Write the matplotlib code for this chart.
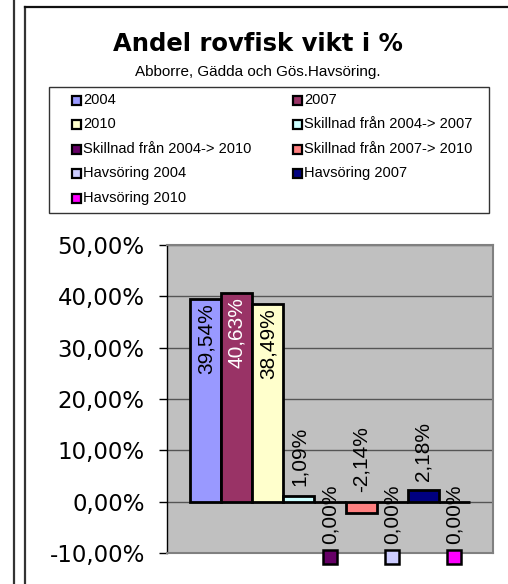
import matplotlib
matplotlib.use("Agg")
import matplotlib.pyplot as plt
from matplotlib.patches import Rectangle
from matplotlib.lines import Line2D
import matplotlib.transforms as mtransforms
import numpy as np

series = ["2004", "2007", "2010", "Skillnad från 2004-> 2007",
          "Skillnad från 2004-> 2010", "Skillnad från 2007-> 2010",
          "Havsöring 2004", "Havsöring 2007", "Havsöring 2010"]
values = [39.54, 40.63, 38.49, 1.09, 0.00, -2.14, 0.00, 2.18, 0.00]
colors = ["#9999FF", "#993366", "#FFFFCC", "#CCFFFF", "#660066",
          "#FF8080", "#CCCCFF", "#000080", "#FF00FF"]
yticks = [-10, 0, 10, 20, 30, 40, 50]
title = "Andel rovfisk vikt i %"
subtitle = "Abborre, Gädda och Gös.Havsöring."

W, H = 508, 584
fig = plt.figure(figsize=(W / 100, H / 100), dpi=100)
fig.patch.set_facecolor("white")

def fx(px):
    return px / W

def fy(py):
    return 1 - py / H

# outer frame lines
fig.add_artist(Line2D([fx(14), fx(14)], [0, 1], color="#333333", lw=1.6))
fig.add_artist(Line2D([fx(25), fx(25)], [0, fy(7)], color="#333333", lw=1.6))
fig.add_artist(Line2D([fx(25), 1], [fy(7), fy(7)], color="#111111", lw=1.6))

# titles
fig.text(fx(258), fy(44), title, ha="center", va="center",
         fontsize=17.5, fontweight="bold", family="DejaVu Sans")
fig.text(fx(258), fy(72), subtitle, ha="center", va="center",
         fontsize=11, family="Liberation Sans")

# legend box
fig.add_artist(Rectangle((fx(49), fy(213)), fx(489 - 49), (213 - 87) / H,
                         facecolor="white", edgecolor="#333333", lw=1.0,
                         transform=fig.transFigure))
for i, (lab, c) in enumerate(zip(series, colors)):
    row, col = i // 2, i % 2
    cx = 76 if col == 0 else 297
    cy = 100 + row * 24.5
    fig.add_artist(Rectangle((fx(cx - 4.5), fy(cy + 4.5)), 9 / W, 9 / H,
                             facecolor=c, edgecolor="black", lw=1.6,
                             transform=fig.transFigure))
    fig.text(fx(cx + 7), fy(cy), lab, ha="left", va="center",
             fontsize=10.5, family="Liberation Sans")

# plot area
ax = fig.add_axes([fx(167), fy(553), fx(493 - 167), (553 - 245) / H])
ax.set_facecolor("#C0C0C0")
ax.set_ylim(-10, 50)
ax.set_xlim(-0.5, 0.5)
n = len(values)
bw = 1 / (n + 1.5)
xs = -n * bw / 2 + bw * (np.arange(n) + 0.5)
ax.set_axisbelow(True)
ax.yaxis.grid(True, color="#555555", lw=1.0)
ax.bar(xs, values, width=bw, color=colors, edgecolor="black", lw=2, zorder=3)

lab_fs = 15
key_shift = mtransforms.ScaledTranslation(0, -40 / 72, fig.dpi_scale_trans)
for x, v, c in zip(xs, values, colors):
    lab = f"{v:.2f}".replace(".", ",") + "%"
    if v >= 20:
        tc = "white" if c in ("#993366",) else "black"
        ax.annotate(lab, (x, v), xytext=(0, -3), textcoords="offset points",
                    rotation=90, ha="center", va="top", color=tc,
                    fontsize=lab_fs, family="Liberation Sans", zorder=5)
    elif v == 0:
        ax.annotate(lab, (x, 0), xytext=(0, -30.5), textcoords="offset points",
                    rotation=90, ha="center", va="bottom", color="black",
                    fontsize=lab_fs, family="Liberation Sans", zorder=5,
                    annotation_clip=False)
        ax.plot([x], [0], marker="s", markersize=9.5, markerfacecolor=c,
                markeredgecolor="black", markeredgewidth=1.8, clip_on=False,
                zorder=6, transform=ax.transData + key_shift)
    else:
        ax.annotate(lab, (x, max(v, 0)), xytext=(0, 7), textcoords="offset points",
                    rotation=90, ha="center", va="bottom", color="black",
                    fontsize=lab_fs, family="Liberation Sans", zorder=5)

ax.set_xticks([])
ax.set_yticks(yticks)
ax.set_yticklabels([f"{t:.2f}".replace(".", ",") + "%" for t in yticks],
                   family="DejaVu Sans", fontsize=16.5)
ax.tick_params(axis="y", direction="out", length=6, width=1, color="black", pad=10)
for s in ["top", "right", "bottom"]:
    ax.spines[s].set_color("#808080")
    ax.spines[s].set_linewidth(1.5)
ax.spines["left"].set_color("black")
ax.spines["left"].set_linewidth(1)

fig.savefig("out.png", dpi=100)
